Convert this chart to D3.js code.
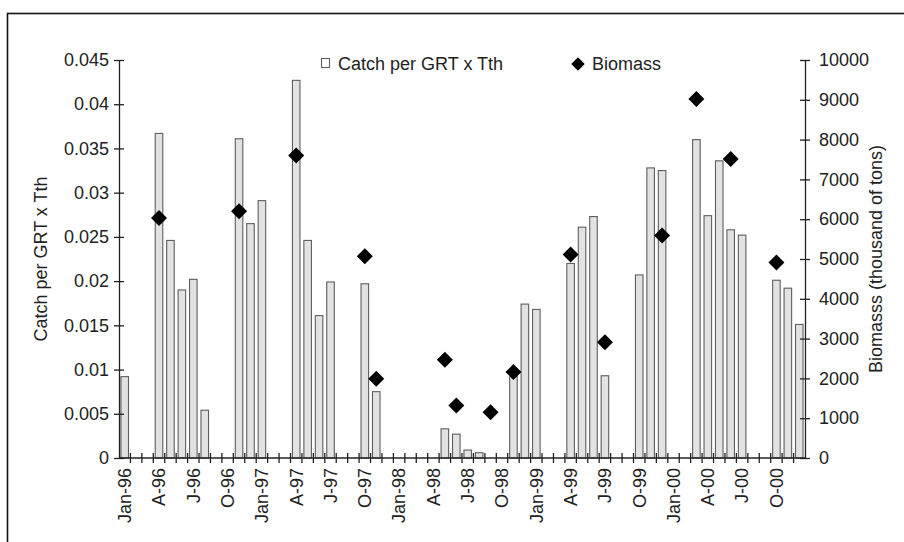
<!DOCTYPE html>
<html>
<head>
<meta charset="utf-8">
<script src="https://cdn.jsdelivr.net/npm/d3@7"></script>
<style>
  html, body { margin: 0; padding: 0; background: #fff; }
  svg { display: block; }
  text { font-family: "Liberation Sans", Arial, sans-serif; fill: #222; }
</style>
</head>
<body>
<svg id="chart" width="904" height="542"></svg>
<script>
// Monthly categories, Jan-96 .. Dec-00
const years = ["96", "97", "98", "99", "00"];
const monthNames = ["Jan","Feb","Mar","Apr","May","Jun","Jul","Aug","Sep","Oct","Nov","Dec"];
const categories = years.flatMap(y => monthNames.map(m => m + "-" + y));

// Catch per GRT x Tth, one value per month (0 = no fishing that month)
const catch1996 = [0.0092, 0, 0, 0.0367, 0.0246, 0.0190, 0.0202, 0.0054, 0, 0, 0.0361, 0.0265];
const catch1997 = [0.0291, 0, 0, 0.0427, 0.0246, 0.0161, 0.0199, 0, 0, 0.0197, 0.0075, 0];
const catch1998 = [0, 0, 0, 0, 0.0033, 0.0027, 0.0009, 0.0006, 0, 0, 0.0092, 0.0174];
const catch1999 = [0.0168, 0, 0, 0.0220, 0.0261, 0.0273, 0.0093, 0, 0, 0.0207, 0.0328, 0.0325];
const catch2000 = [0, 0, 0.0360, 0.0274, 0.0336, 0.0258, 0.0252, 0, 0, 0.0201, 0.0192, 0.0151];
const catchValues = [].concat(catch1996, catch1997, catch1998, catch1999, catch2000);

// Biomass survey estimates (thousand of tons)
const biomassMonths = ["Apr-96","Nov-96","Apr-97","Oct-97","Nov-97","May-98","Jun-98","Sep-98",
                       "Nov-98","Apr-99","Jul-99","Dec-99","Mar-00","Jun-00","Oct-00"];
const biomassValues = [6030, 6200, 7600, 5070, 1990, 2470, 1320, 1150,
                       2160, 5110, 2910, 5590, 9020, 7510, 4910];

// Axis tick labels
const leftTickLabels = ["0","0.005","0.01","0.015","0.02","0.025","0.03","0.035","0.04","0.045"];
const rightTickLabels = ["0","1000","2000","3000","4000","5000","6000","7000","8000","9000","10000"];
const xTickLabels = ["Jan-96","A-96","J-96","O-96","Jan-97","A-97","J-97","O-97","Jan-98","A-98",
                     "J-98","O-98","Jan-99","A-99","J-99","O-99","Jan-00","A-00","J-00","O-00"];

const svg = d3.select("#chart");
const plotLeft = 119, plotRight = 805, plotTop = 60, plotBottom = 458;

const x = d3.scaleBand().domain(categories).range([plotLeft, plotRight])
  .paddingInner(0.34).paddingOuter(0.17);
const step = x.step();
const yL = d3.scaleLinear().domain([0, 0.045]).range([plotBottom, plotTop]);
const yR = d3.scaleLinear().domain([0, 10000]).range([plotBottom, plotTop]);

// frame around the figure
svg.append("rect")
  .attr("x", 7.5).attr("y", 13.5).attr("width", 905).attr("height", 540)
  .attr("fill", "none").attr("stroke", "#111").attr("stroke-width", 1.6);

// bars
const barData = categories.map((c, i) => ({ c, v: catchValues[i] })).filter(d => d.v > 0);
svg.append("g").selectAll("rect").data(barData).join("rect")
  .attr("x", d => x(d.c))
  .attr("width", x.bandwidth())
  .attr("y", d => yL(d.v))
  .attr("height", d => yL(0) - yL(d.v))
  .attr("fill", "#e2e2e2")
  .attr("stroke", "#5e5e5e")
  .attr("stroke-width", 1.1);

// left axis
const gL = svg.append("g").attr("transform", `translate(${plotLeft},0)`)
  .call(d3.axisLeft(yL).tickValues(leftTickLabels.map(Number))
    .tickFormat((d, i) => leftTickLabels[i]).tickSizeOuter(0).tickSizeInner(5).tickPadding(5));
gL.selectAll(".tick line").attr("x1", 5);
gL.select(".domain").attr("stroke", "#222").attr("stroke-width", 1.3);
gL.selectAll(".tick line").attr("stroke", "#222").attr("stroke-width", 1.3);
gL.selectAll(".tick text").style("font-size", "18px").attr("fill", "#222");

// right axis
const gR = svg.append("g").attr("transform", `translate(${plotRight},0)`)
  .call(d3.axisRight(yR).tickValues(rightTickLabels.map(Number))
    .tickFormat((d, i) => rightTickLabels[i]).tickSizeOuter(0).tickSizeInner(5).tickPadding(9));
gR.selectAll(".tick line").attr("x1", -5);
gR.select(".domain").attr("stroke", "#222").attr("stroke-width", 1.3);
gR.selectAll(".tick line").attr("stroke", "#222").attr("stroke-width", 1.3);
gR.selectAll(".tick text").style("font-size", "18px").attr("fill", "#222");

// bottom axis: baseline, month boundary ticks, quarterly labels
const gX = svg.append("g");
gX.append("line").attr("x1", plotLeft).attr("x2", plotRight)
  .attr("y1", yL(0)).attr("y2", yL(0)).attr("stroke", "#222").attr("stroke-width", 1.3);
gX.selectAll("line.tick").data(categories.slice(1)).join("line")
  .attr("class", "tick")
  .attr("x1", d => x(d) - step * x.paddingInner() / 2)
  .attr("x2", d => x(d) - step * x.paddingInner() / 2)
  .attr("y1", yL(0) - 5).attr("y2", yL(0) + 5)
  .attr("stroke", "#222").attr("stroke-width", 1.3);
const labelled = categories.filter((c, i) => i % 3 === 0).map((c, i) => ({ c, label: xTickLabels[i] }));
gX.selectAll("text").data(labelled).join("text")
  .attr("transform", d => `translate(${x(d.c) + x.bandwidth() / 2},${yL(0) + 10}) rotate(-90)`)
  .attr("dy", "0.35em")
  .attr("text-anchor", "end")
  .style("font-size", "18px")
  .text(d => d.label);

// biomass diamonds
const diamond = d3.symbol().type(d3.symbolSquare).size(128);
svg.append("g").selectAll("path").data(biomassMonths.map((m, i) => ({ m, v: biomassValues[i] })))
  .join("path")
  .attr("d", diamond)
  .attr("transform", d => `translate(${x(d.m) + x.bandwidth() / 2},${yR(d.v)}) rotate(45)`)
  .attr("fill", "#000");

// axis titles
svg.append("text")
  .attr("transform", `translate(41,${(plotTop + plotBottom) / 2}) rotate(-90)`)
  .attr("text-anchor", "middle").attr("dy", "0.35em")
  .style("font-size", "18px")
  .text("Catch per GRT x Tth");
svg.append("text")
  .attr("transform", `translate(876,${(plotTop + plotBottom) / 2}) rotate(-90)`)
  .attr("text-anchor", "middle").attr("dy", "0.35em")
  .style("font-size", "18px")
  .text("Biomasss (thousand of tons)");

// legend
const lg = svg.append("g");
lg.append("rect").attr("x", 321.5).attr("y", 58.5).attr("width", 8).attr("height", 9)
  .attr("fill", "#fff").attr("stroke", "#5e5e5e").attr("stroke-width", 1.1);
lg.append("text").attr("x", 338).attr("y", 64).attr("dy", "0.35em")
  .style("font-size", "18px").text("Catch per GRT x Tth");
lg.append("path").attr("d", d3.symbol().type(d3.symbolSquare).size(90))
  .attr("transform", "translate(578,64) rotate(45)").attr("fill", "#000");
lg.append("text").attr("x", 592).attr("y", 64).attr("dy", "0.35em")
  .style("font-size", "18px").text("Biomass");
</script>
</body>
</html>
